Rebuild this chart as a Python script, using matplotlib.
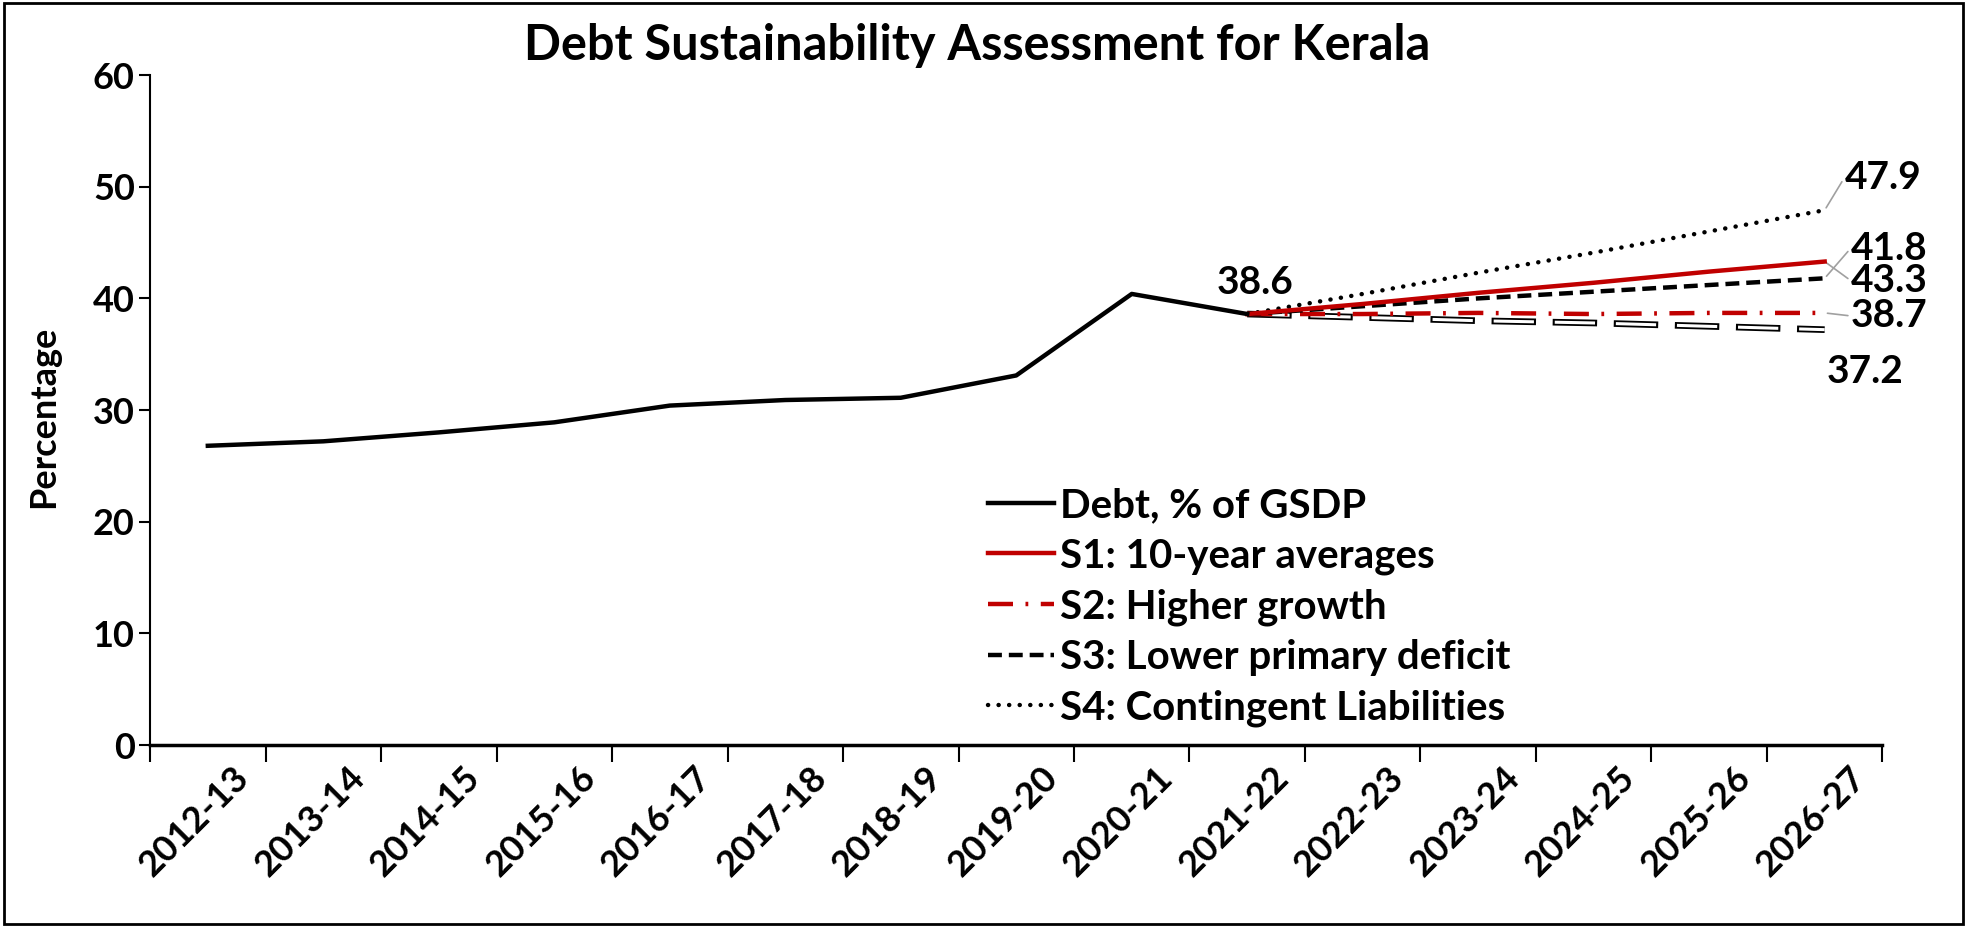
import numpy as np
import matplotlib
matplotlib.use("Agg")
import matplotlib.pyplot as plt
from matplotlib.patches import Rectangle

plt.rcParams['font.family'] = ['Lato', 'DejaVu Sans']
plt.rcParams['font.weight'] = 'bold'
plt.rcParams['lines.scale_dashes'] = False

years = ["2012-13", "2013-14", "2014-15", "2015-16", "2016-17", "2017-18",
         "2018-19", "2019-20", "2020-21", "2021-22", "2022-23", "2023-24",
         "2024-25", "2025-26", "2026-27"]

# historical debt, % of GSDP
debt = [26.8, 27.2, 28.0, 28.9, 30.4, 30.9, 31.1, 33.1, 40.4, 38.6]

# projections 2021-22 .. 2026-27
s1 = [38.6, 39.5, 40.5, 41.4, 42.4, 43.3]
s2 = [38.6, 38.6, 38.7, 38.6, 38.7, 38.7]
s3 = [38.6, 39.3, 40.0, 40.6, 41.2, 41.8]
s4 = [38.6, 40.4, 42.3, 44.1, 46.0, 47.9]
s5 = [38.6, 38.3, 38.0, 37.8, 37.5, 37.2]

red = '#C00000'

fig = plt.figure(figsize=(19.67, 9.27), dpi=100)
ax = fig.add_axes([0.0763, 0.1963, 0.8807, 0.7227])

x_hist = np.arange(len(debt))
x_proj = np.arange(len(debt) - 1, len(years))

# hollow dashed line (black outline, white fill)
ax.plot(x_proj, s5, color='black', lw=4.8, linestyle=(0, (32, 12)),
        dash_capstyle='butt', zorder=2)
ax.plot(x_proj, s5, color='white', lw=2.2, linestyle=(42.5, (29, 15)),
        dash_capstyle='butt', zorder=2.1)

ax.plot(x_hist, debt, color='black', lw=3.2, label='Debt, % of GSDP', zorder=5)
ax.plot(x_proj, s1, color=red, lw=3.2, label='S1: 10-year averages', zorder=4)
ax.plot(x_proj, s2, color=red, lw=3.2, dashes=(18, 9, 2, 9),
        label='S2: Higher growth', zorder=3)
ax.plot(x_proj, s3, color='black', lw=3.2, dashes=(10, 5),
        label='S3: Lower primary deficit', zorder=3)
ax.plot(x_proj, s4, color='black', lw=3.2, dashes=(0.1, 7.5), dash_capstyle='round',
        label='S4: Contingent Liabilities', zorder=3)

ax.set_xlim(-0.5, len(years) - 0.5)
ax.set_ylim(0, 60)
ax.set_yticks(range(0, 61, 10))
ax.set_xticks(np.arange(-0.5, len(years), 1.0))
ax.set_xticklabels([])
# label anchors sit a little right of the category centre, as in Excel
ax.set_xticks(np.arange(len(years)) + 0.21, minor=True)
ax.set_xticklabels(years, minor=True, rotation=45, ha='right', va='top',
                   rotation_mode='anchor', fontsize=26, fontweight='bold')
ax.tick_params(axis='x', which='major', length=12, width=1.5, direction='out')
ax.tick_params(axis='x', which='minor', length=0, pad=11)
ax.tick_params(axis='y', length=8, width=1.5, direction='out', labelsize=26, pad=3)
for lab in ax.get_yticklabels():
    lab.set_fontweight('bold')

for side in ['top', 'right']:
    ax.spines[side].set_visible(False)
ax.spines['left'].set_linewidth(1.5)
ax.spines['bottom'].set_linewidth(2.5)

ax.set_ylabel('Percentage', fontsize=26, fontweight='bold')
ax.yaxis.set_label_coords(-0.052, 0.49)
fig.text(0.497, 0.951, 'Debt Sustainability Assessment for Kerala', fontsize=35,
         fontweight='bold', ha='center', va='center')

# data labels
last = len(years) - 1
ax.annotate(f"{debt[-1]:.1f}", xy=(len(debt) - 1, debt[-1]), xytext=(8, 14),
            textcoords='offset pixels', ha='center', va='bottom', fontsize=28)
labels = [
    (s4[-1], (20, 33), True),
    (s3[-1], (26, 30), True),
    (s1[-1], (26, -19), True),
    (s2[-1], (26, -3), True),
    (s5[-1], (2, -42), False),
]
for val, off, leader in labels:
    ap = dict(arrowstyle='-', color='#a0a0a0', lw=1.2, shrinkA=0, shrinkB=2,
              relpos=(0, 0.5)) if leader else None
    ax.annotate(f"{val:.1f}", xy=(last, val), xytext=off, textcoords='offset pixels',
                ha='left', va='center', fontsize=28, arrowprops=ap)

leg = ax.legend(loc='upper left', bbox_to_anchor=(0.494, 0.492),
                bbox_transform=fig.transFigure, frameon=False, fontsize=29,
                handlelength=1.65, handletextpad=0.15, labelspacing=0.33,
                borderaxespad=0)

fig.patches.append(Rectangle((0.002, 0.003), 0.996, 0.994, transform=fig.transFigure,
                             fill=False, edgecolor='black', lw=2))

fig.savefig('out.png', dpi=100)
